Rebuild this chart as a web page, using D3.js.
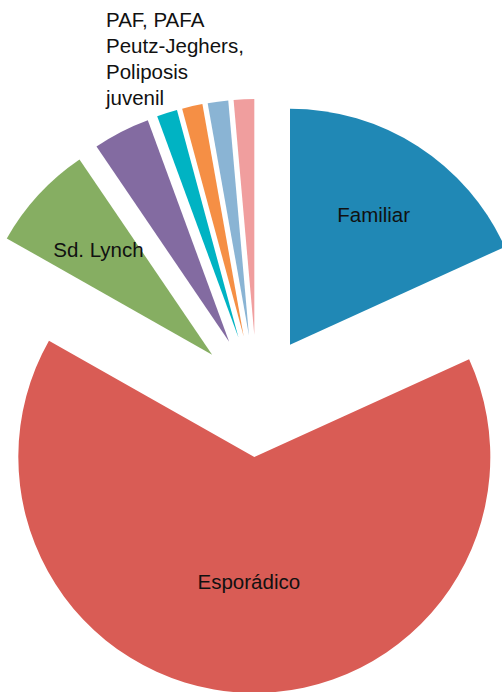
<!DOCTYPE html>
<html lang="es">
<head>
    <meta charset="UTF-8">
    <title>Tipos de cáncer colorrectal</title>
    <style>
        body {
            margin: 0;
            overflow: hidden;
            background: white;
            font-family: 'Liberation Sans', Arial, Helvetica, sans-serif;
        }
        .label {
            font-size: 20.5px;
            fill: #111;
        }
    </style>
    <script src="https://d3js.org/d3.v7.min.js"></script>
</head>
<body>
    <div id="chart"></div>
    <script>
        // datos (porcentaje de casos)
        const categorias = ["Familiar", "Esporádico", "Sd. Lynch", "Otros", "PAF", "PAFA", "Peutz-Jeghers", "Poliposis juvenil"];
        const valores = [18.2, 65.0, 7.3, 3.9, 1.4, 1.4, 1.4, 1.4];
        const colores = ["#2088b5", "#d95c55", "#86ae62", "#836ba1", "#00b3c3", "#f58f45", "#8ab4d4", "#f09e9e"];
        // etiqueta añadida a mano para las porciones pequeñas
        const notaLineas = ["PAF, PAFA", "Peutz-Jeghers,", "Poliposis", "juvenil"];

        const width = 502, height = 692;
        const cx = 257, cy = 396;
        const radius = 236;
        const explode = 61;

        const svg = d3.select("#chart")
            .append("svg")
            .attr("width", width)
            .attr("height", height);

        const pie = d3.pie().sort(null).value(d => d);
        const arcs = pie(valores);

        const arc = d3.arc().innerRadius(0).outerRadius(radius);

        const color = d3.scaleOrdinal().domain(categorias).range(colores);

        const g = svg.append("g").attr("transform", `translate(${cx},${cy})`);

        function offset(d) {
            const a = (d.startAngle + d.endAngle) / 2;
            return [Math.sin(a) * explode, -Math.cos(a) * explode];
        }

        const slices = g.selectAll(".slice")
            .data(arcs)
            .enter()
            .append("g")
            .attr("class", "slice")
            .attr("transform", d => `translate(${offset(d)})`);

        slices.append("path")
            .attr("d", arc)
            .attr("fill", (d, i) => color(categorias[i]));

        // etiquetas dentro de las porciones grandes
        slices.filter(d => d.endAngle - d.startAngle > 0.35)
            .append("text")
            .attr("class", "label")
            .attr("transform", d => {
                const inner = (d.endAngle - d.startAngle) > Math.PI ? radius * 0.06 : radius * 0.31;
                const c = d3.arc().innerRadius(inner).outerRadius(radius).centroid(d);
                return `translate(${c})`;
            })
            .attr("text-anchor", "middle")
            .attr("dy", "0.35em")
            .text((d, i) => categorias[d.index]);

        // nota de las porciones pequeñas
        const nota = svg.append("text")
            .attr("class", "label")
            .attr("x", 106)
            .attr("y", 27);

        nota.selectAll("tspan")
            .data(notaLineas)
            .enter()
            .append("tspan")
            .attr("x", 106)
            .attr("dy", (d, i) => i === 0 ? 0 : 26)
            .text(d => d);
    </script>
</body>
</html>
